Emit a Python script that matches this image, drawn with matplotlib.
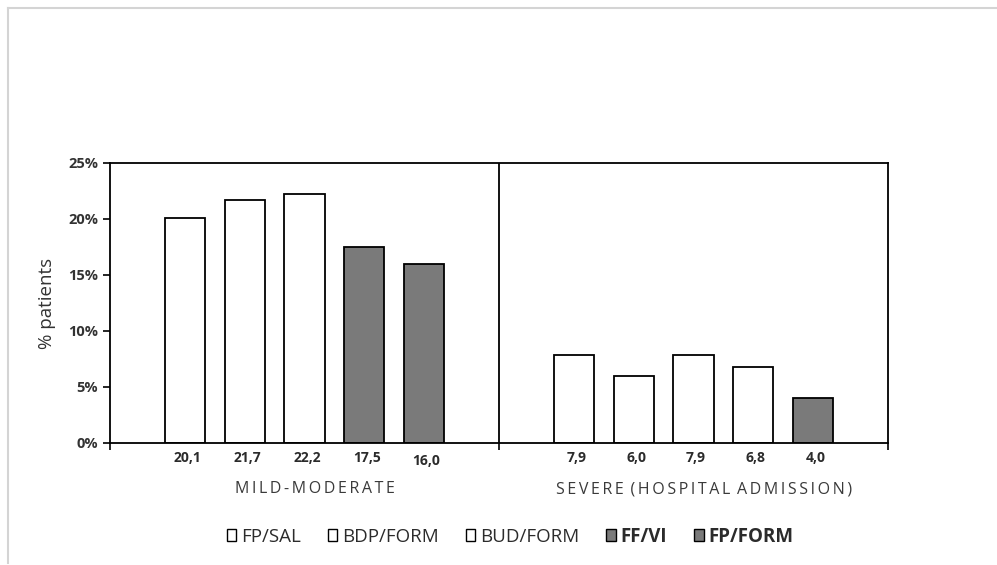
import matplotlib.pyplot as plt
from matplotlib.patches import Patch
from matplotlib.lines import Line2D

# data: % patients with exacerbations
groups = ['MILD-MODERATE', 'SEVERE (HOSPITAL ADMISSION)']
treatments = ['FP/SAL', 'BDP/FORM', 'BUD/FORM', 'FF/VI', 'FP/FORM']
mild = [20.1, 21.7, 22.2, 17.5, 16.0]
severe = [7.9, 6.0, 7.9, 6.8, 4.0]
mild_fill = ['white', 'white', 'white', '#7a7a7a', '#7a7a7a']
severe_fill = ['white', 'white', 'white', 'white', '#7a7a7a']
legend_fill = ['white', 'white', 'white', '#7a7a7a', '#7a7a7a']
legend_bold = [False, False, False, True, True]

plt.rcParams['font.family'] = ['Open Sans', 'DejaVu Sans']

fig = plt.figure(figsize=(9.97, 5.65), dpi=100)
ax = fig.add_axes([110 / 997, 122 / 565, 778 / 997, 280 / 565])

width = 0.67
label_drop = [[0, 0, 0, 0, 0.25], [0, 0, 0, 0, 0]]
for g, (vals, fills) in enumerate([(mild, mild_fill), (severe, severe_fill)]):
    xs = [g * 6.5 + 1.25 + i for i in range(len(vals))]
    ax.bar(xs, vals, width=width, color=fills, edgecolor='black', linewidth=1.3)
    for x, v, d in zip(xs, vals, label_drop[g]):
        ax.text(x + 0.04, -0.75 - d, f'{v:.1f}'.replace('.', ','), ha='center', va='top',
                fontsize=10, fontweight='bold', color='#2b2b2b')
    # spaced-out group caption
    caption = '\u2009'.join(groups[g]).replace('\u2009 \u2009', '\u2009 ')
    ax.text(g * 6.5 + 3.43, -3.4, caption,
            ha='center', va='top', fontsize=11.5, color='#3a3a3a')

ax.set_xlim(0, 13)
ax.set_ylim(0, 25)
ax.set_yticks([0, 5, 10, 15, 20, 25])
ax.set_yticklabels([f'{t}%' for t in [0, 5, 10, 15, 20, 25]],
                   fontsize=10.5, fontweight='bold', color='#333333')
ax.set_xticks([0, 6.5, 13])
ax.set_xticklabels([])
ax.tick_params(axis='both', direction='out', length=5, width=1.2, color='black')
ax.axvline(6.5, color='black', linewidth=1.3)
for s in ax.spines.values():
    s.set_linewidth(1.3)
ax.set_ylabel('% patients', fontsize=13.5, color='#333333', labelpad=9)

handles = [Patch(facecolor=c, edgecolor='black', linewidth=1.0) for c in legend_fill]
leg = fig.legend(handles, treatments, loc='center', bbox_to_anchor=(510 / 997, 1 - 537 / 565),
                 ncol=5, frameon=False, fontsize=13.5, handlelength=0.5, handleheight=0.6,
                 handletextpad=0.25, columnspacing=1.45)
for t, b in zip(leg.get_texts(), legend_bold):
    t.set_color('#2b2b2b')
    if b:
        t.set_fontweight('bold')

# light frame on the top and left edges
fig.add_artist(Line2D([7.5 / 997, 7.5 / 997], [2 / 565, 1 - 7.5 / 565],
                      transform=fig.transFigure, color='#d4d4d4', linewidth=1.5))
fig.add_artist(Line2D([7.5 / 997, 1], [1 - 7.5 / 565, 1 - 7.5 / 565],
                      transform=fig.transFigure, color='#d4d4d4', linewidth=1.5))

fig.savefig('out.png', dpi=100)
